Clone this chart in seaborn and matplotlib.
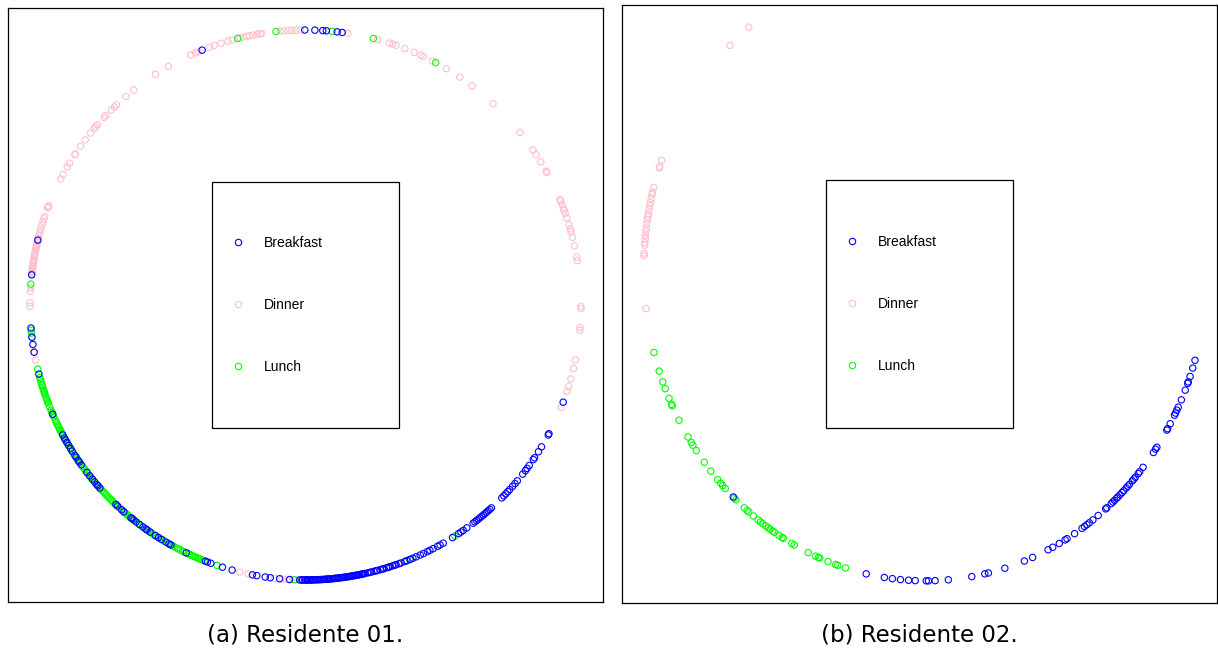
import numpy as np
import pandas as pd
import matplotlib
matplotlib.use("Agg")
import matplotlib.pyplot as plt
import seaborn as sns
from matplotlib.lines import Line2D
from matplotlib.patches import Rectangle

# Meal categories and their colours
meals = ["Breakfast", "Dinner", "Lunch"]
meal_colors = {"Breakfast": "#0000FF", "Dinner": "#FFC0CB", "Lunch": "#00FF00"}
# drawing order of the groups (later groups sit on top)
draw_order = ["Dinner", "Lunch", "Breakfast"]

# Meal times (hour of day) for resident 01
r01_breakfast = [
    22.53, 23.99, 0.13, 0.24, 0.29, 0.44, 0.51,
    18.91, 18.42, 17.68, 17.55, 17.45, 17.34, 17.03,
    16.44, 16.12, 16.07, 16.04, 16.00, 15.95, 15.90, 15.86, 15.79, 15.76,
    15.70, 15.68, 15.63, 15.50, 15.44, 15.38, 15.33, 15.28, 15.26, 15.22,
    14.90, 14.87, 14.79, 14.75, 14.62, 14.60, 14.57, 14.53, 14.47, 14.41,
    14.36, 14.34, 14.29, 14.20, 14.15, 14.10, 14.03, 13.98, 13.95, 13.71,
    13.42, 13.39,
    13.34, 13.17, 13.03, 12.74, 12.68, 12.56, 12.49, 12.36, 12.22, 12.08,
    12.05, 12.04, 12.01, 12.00, 11.98, 11.97, 11.95, 11.93, 11.91, 11.90,
    11.88, 11.86, 11.84, 11.82, 11.80, 11.79, 11.77, 11.75, 11.73, 11.71,
    11.70, 11.68, 11.67, 11.65, 11.63, 11.61, 11.59, 11.58, 11.56, 11.54,
    11.52, 11.50, 11.49, 11.47, 11.45, 11.43, 11.41, 11.39, 11.37, 11.35,
    11.33, 11.31, 11.29, 11.28, 11.26, 11.24, 11.22, 11.20, 11.19, 11.17,
    11.13, 11.10, 11.08, 11.04, 11.01, 10.99, 10.95, 10.92, 10.90, 10.86,
    10.83, 10.81, 10.77, 10.74, 10.72, 10.68, 10.65, 10.59, 10.56,
    10.51, 10.47, 10.42, 10.36, 10.31, 10.25, 10.21, 10.16, 10.09, 10.05, 10.00,
    9.85, 9.75, 9.71, 9.67, 9.61, 9.50, 9.47, 9.44, 9.41, 9.38, 9.35, 9.32,
    9.29, 9.26, 9.23, 9.20, 9.17, 8.97, 8.93, 8.89, 8.85, 8.81, 8.75, 8.70,
    8.65, 8.53, 8.47, 8.43, 8.38, 8.28, 8.25, 8.15, 8.07, 7.88, 7.86, 7.38,
]
r01_dinner = [
    21.80, 22.01, 22.36, 22.43, 22.47, 22.64, 22.71, 22.81, 22.91, 22.97,
    23.08, 23.13, 23.18, 23.22, 23.27, 23.33, 23.37, 23.39, 23.65, 23.70,
    23.76, 23.81, 23.87, 23.93, 0.59, 1.01, 1.18, 1.23, 1.28, 1.41, 1.55,
    1.65, 1.69, 1.83, 2.05, 2.27, 2.48, 2.86, 3.41, 3.71, 3.79, 3.91, 4.06,
    4.08, 4.50, 4.52, 4.57, 4.63, 4.66, 4.70, 4.77, 4.87, 4.93, 4.97, 5.05,
    5.17, 5.33, 5.38, 6.02, 6.05, 6.31, 6.35, 6.77, 6.89, 7.04, 7.15, 7.22, 7.46,
    21.43, 21.29, 21.11, 21.07, 21.01, 20.90, 20.87, 20.73, 20.69, 20.66,
    20.58, 20.46, 20.35, 20.22, 20.21, 20.07, 20.01, 19.89, 19.82, 19.41,
    19.39, 19.38, 19.25, 19.22, 19.18, 19.13, 19.07, 19.02, 18.97, 18.93,
    18.90, 18.88, 18.85, 18.83, 18.81, 18.79, 18.77, 18.74, 18.72, 18.70,
    18.69, 18.67, 18.64, 18.62, 18.60, 18.58, 18.55, 18.53, 18.51, 18.49,
    18.47, 18.45, 18.44, 18.24, 18.19, 18.03, 17.98, 17.56, 17.35, 17.23,
    16.70, 16.57, 16.45, 15.96, 15.88, 15.45, 12.92, 12.80, 12.43, 12.32,
    12.26, 12.17, 12.10, 12.03, 10.61,
]
r01_lunch = [
    23.05, 23.59, 0.37, 0.95, 1.88,
    18.29, 17.65, 17.61, 17.10, 16.98, 16.95, 16.92, 16.88, 16.86, 16.83,
    16.80, 16.78, 16.76, 16.73, 16.68, 16.66, 16.63, 16.61, 16.55, 16.50,
    16.47, 16.42, 16.40, 16.35, 16.32, 16.29, 16.26, 16.24, 16.21, 16.19,
    16.16, 16.14, 16.10, 16.01, 15.98, 15.92, 15.83, 15.74, 15.72, 15.66,
    15.60, 15.57, 15.55, 15.52, 15.48, 15.42, 15.40, 15.36, 15.30, 15.25,
    15.21, 15.18, 15.15, 15.12, 15.09, 15.06, 15.03, 15.00, 14.98, 14.95,
    14.92, 14.89, 14.85, 14.82, 14.77, 14.73, 14.71, 14.68, 14.66, 14.63,
    14.59, 14.50, 14.45, 14.38, 14.31, 14.27, 14.24, 14.21, 14.17, 14.13,
    14.07, 14.00, 13.96, 13.92, 13.89, 13.85, 13.83, 13.80, 13.77, 13.74,
    13.68, 13.66, 13.63, 13.60, 13.57, 13.54, 13.52, 13.50, 13.47, 13.44,
    13.25, 12.15, 11.40, 10.52, 9.81,
]

# Meal times (hour of day) for resident 02
r02_breakfast = [
    14.87, 12.81, 12.56, 12.45, 12.34, 12.23, 12.14, 11.99, 11.96, 11.87,
    11.69, 11.37, 11.19, 11.14, 10.91, 10.63, 10.51, 10.28, 10.21, 10.11,
    10.02, 9.99, 9.87, 9.75, 9.71, 9.67, 9.63, 9.57, 9.48, 9.35, 9.33, 9.25,
    9.22, 9.19, 9.15, 9.13, 9.09, 9.05, 9.02, 8.97, 8.94, 8.91, 8.85, 8.82,
    8.79, 8.73, 8.70, 8.63, 8.40, 8.35, 8.32, 8.07, 8.05, 7.98, 7.86, 7.83,
    7.79, 7.75, 7.65, 7.52, 7.43, 7.41, 7.34, 7.23, 7.13,
]
r02_dinner = [
    21.41, 21.07, 19.37, 19.29, 19.27, 19.02, 18.96, 18.93, 18.88, 18.83,
    18.79, 18.74, 18.69, 18.65, 18.61, 18.56, 18.51, 18.47, 18.42, 18.38,
    18.33, 18.30, 18.20, 18.17, 17.52,
]
r02_lunch = [
    16.97, 16.73, 16.59, 16.50, 16.37, 16.29, 16.27, 16.07, 15.83, 15.75,
    15.71, 15.63, 15.45, 15.31, 15.17, 15.11, 15.07, 15.02, 14.85, 14.82,
    14.67, 14.62, 14.59, 14.51, 14.43, 14.39, 14.35, 14.30, 14.26, 14.23,
    14.19, 14.16, 14.09, 14.04, 14.02, 13.89, 13.85, 13.64, 13.53, 13.49,
    13.47, 13.35, 13.24, 13.21, 13.10,
]

captions = ["(a) Residente 01.", "(b) Residente 02."]


def circular_frame(breakfast, dinner, lunch):
    """Encode each meal time on the unit circle (sin / cos of the hour)."""
    groups = dict(zip(meals, [breakfast, dinner, lunch]))
    parts = [pd.DataFrame({"hour": groups[name], "meal": name}) for name in draw_order]
    df = pd.concat(parts, ignore_index=True)
    ang = 2 * np.pi * df["hour"].to_numpy() / 24.0
    df["x"] = np.sin(ang)
    df["y"] = np.cos(ang)
    return df


sns.set_theme(style="white")
plt.rcParams["axes.edgecolor"] = "black"
plt.rcParams["axes.linewidth"] = 0.9
plt.rcParams["text.color"] = "black"

fig = plt.figure(figsize=(12.18, 6.52), dpi=100)
ax_a = fig.add_axes([0.00657, 0.0767, 0.4885, 0.911])
ax_b = fig.add_axes([0.5107, 0.0752, 0.4885, 0.9172])

datasets = [
    circular_frame(r01_breakfast, r01_dinner, r01_lunch),
    circular_frame(r02_breakfast, r02_dinner, r02_lunch),
]

for ax, df in zip([ax_a, ax_b], datasets):
    sns.scatterplot(data=df, x="x", y="y", hue="meal", hue_order=meals,
                    palette=meal_colors, s=21, linewidth=0.8,
                    legend=False, ax=ax)
    coll = ax.collections[-1]
    cols = coll.get_facecolors()
    coll.set_edgecolors(cols)
    coll.set_facecolors("none")
    ax.margins(0.04)
    ax.set_xticks([])
    ax.set_yticks([])
    ax.set_xlabel("")
    ax.set_ylabel("")
    for sp in ax.spines.values():
        sp.set_visible(True)
        sp.set_color("black")

    # legend box
    ax.add_patch(Rectangle((0.343, 0.293), 0.314, 0.414, transform=ax.transAxes,
                           fill=False, lw=0.9, ec="black", zorder=5))
    handles = [Line2D([], [], ls="none", marker="o", ms=4.6, mfc="none",
                      mec=meal_colors[m], mew=0.8) for m in meals]
    leg = ax.legend(handles, meals, loc="center left", bbox_to_anchor=(0.3748, 0.5),
                    frameon=False, borderpad=0, borderaxespad=0, handlelength=1.0,
                    handletextpad=1.37, labelspacing=3.48,
                    prop={"family": "Liberation Sans", "size": 10})
    for t in leg.get_texts():
        t.set_color("black")

fig.text(305.5 / 1218, 1 - 635 / 652, captions[0], ha="center", va="center",
         fontsize=16.5, family="DejaVu Sans", color="black")
fig.text(919.5 / 1218, 1 - 635 / 652, captions[1], ha="center", va="center",
         fontsize=16.5, family="DejaVu Sans", color="black")

fig.savefig("out.png", dpi=100)
